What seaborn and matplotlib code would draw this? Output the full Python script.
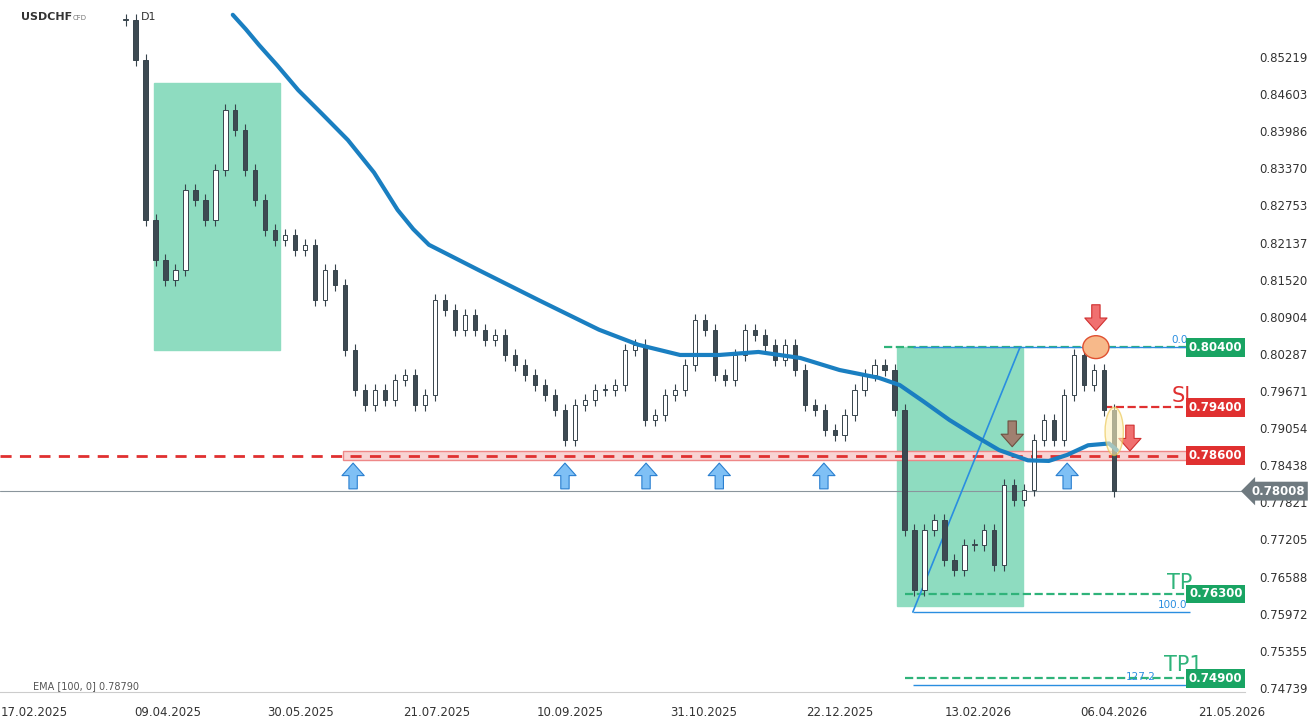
import numpy as np
import pandas as pd
import matplotlib
matplotlib.use("Agg")
import matplotlib.pyplot as plt
import matplotlib.dates as mdates
from matplotlib.patches import Rectangle, Ellipse
import seaborn as sns

# ~4-day closes
closes = [0.8583, 0.8517, 0.8251, 0.8185, 0.8152, 0.8168, 0.8301, 0.8284, 0.8251, 0.8334,
          0.8434, 0.8401, 0.8334, 0.8284, 0.8235, 0.8218, 0.8226, 0.8201, 0.8210, 0.8118,
          0.8168, 0.8143, 0.8035, 0.7969, 0.7944, 0.7969, 0.7952, 0.7985, 0.7994, 0.7944,
          0.7961, 0.8118, 0.8102, 0.8069, 0.8093, 0.8069, 0.8052, 0.8060, 0.8027, 0.8010,
          0.7994, 0.7977, 0.7961, 0.7936, 0.7886, 0.7944, 0.7952, 0.7969, 0.7969, 0.7977,
          0.8035, 0.8044, 0.7919, 0.7927, 0.7961, 0.7969, 0.8010, 0.8085, 0.8069, 0.7994,
          0.7985, 0.8027, 0.8069, 0.8060, 0.8044, 0.8019, 0.8044, 0.8002, 0.7944, 0.7936,
          0.7902, 0.7894, 0.7927, 0.7969, 0.7994, 0.8010, 0.8002, 0.7936, 0.7736, 0.7637,
          0.7736, 0.7753, 0.7686, 0.7670, 0.7711, 0.7711, 0.7736, 0.7678, 0.7811, 0.7786,
          0.7803, 0.7886, 0.7919, 0.7886, 0.7961, 0.8027, 0.7977, 0.8002, 0.7936, 0.7801]
candle_dates = pd.date_range("2025-03-24", "2026-04-06", periods=len(closes))

ema_dates = pd.to_datetime(["2025-05-04", "2025-05-09", "2025-05-14", "2025-05-21", "2025-05-29",
                            "2025-06-07", "2025-06-17", "2025-06-27", "2025-07-06", "2025-07-12",
                            "2025-07-18", "2025-08-06", "2025-08-29", "2025-09-21", "2025-10-06",
                            "2025-10-22", "2025-11-06", "2025-11-21", "2025-12-07", "2025-12-22",
                            "2026-01-06", "2026-01-14", "2026-01-23", "2026-02-02", "2026-02-12",
                            "2026-02-21", "2026-03-04", "2026-03-12", "2026-03-19", "2026-03-27",
                            "2026-04-04", "2026-04-07"])
ema_vals = [0.8592, 0.8568, 0.8542, 0.8508, 0.8467, 0.8428, 0.8384, 0.8330, 0.8268, 0.8236,
            0.8210, 0.8168, 0.8118, 0.8069, 0.8044, 0.8027, 0.8027, 0.8032, 0.8022, 0.8002,
            0.7989, 0.7977, 0.7950, 0.7919, 0.7892, 0.7869, 0.7852, 0.7851, 0.7861, 0.7877,
            0.7880, 0.7869]

support_dates = pd.to_datetime(["2025-06-19", "2025-09-08", "2025-10-09", "2025-11-06", "2025-12-16", "2026-03-19"])

yticks = [0.85219, 0.84603, 0.83986, 0.83370, 0.82753, 0.82137, 0.81520, 0.80904, 0.80287,
          0.79671, 0.79054, 0.78438, 0.77821, 0.77205, 0.76588, 0.75972, 0.75355, 0.74739]
xtick_labels = ["17.02.2025", "09.04.2025", "30.05.2025", "21.07.2025", "10.09.2025",
                "31.10.2025", "22.12.2025", "13.02.2026", "06.04.2026", "21.05.2026"]

last_price = 0.78008
sl, res, tp, tp1, fib0, fib100, fib127 = 0.7940, 0.7860, 0.7630, 0.7490, 0.8040, 0.7600, 0.7479

sns.set_style("white")
fig = plt.figure(figsize=(13.16, 7.18), dpi=100)
ax = fig.add_axes([0, 26 / 718, 1245 / 1316, 692 / 718])

d = lambda s: mdates.date2num(pd.Timestamp(s))

# zones
ax.add_patch(Rectangle((d("2025-04-04"), 0.8035), d("2025-05-22") - d("2025-04-04"), 0.8479 - 0.8035,
                       color="#8edcc0", zorder=1))
ax.add_patch(Rectangle((d("2026-01-13"), 0.7610), d("2026-03-02") - d("2026-01-13"), 0.8040 - 0.7610,
                       color="#8edcc0", zorder=1))
ax.add_patch(Rectangle((d("2025-06-15"), 0.7853), d("2026-05-26") - d("2025-06-15"), 0.0015,
                       facecolor="#f8d3d3", edgecolor="#e88", lw=1, zorder=1))

# candles
opens = [closes[0]] + closes[:-1]
for dt, o, c in zip(candle_dates, opens, closes):
    x = mdates.date2num(dt)
    lo, hi = min(o, c), max(o, c)
    ax.vlines(x, lo - 0.0010, hi + 0.0010, color="#37444c", lw=0.8, zorder=3)
    ax.add_patch(Rectangle((x - 0.8, lo), 1.6, max(hi - lo, 0.0002),
                           facecolor="white" if c >= o else "#3d4a52", edgecolor="#37444c", lw=0.7, zorder=4))

sns.lineplot(x=ema_dates, y=ema_vals, ax=ax, color="#1a7fc1", lw=3, zorder=5)

# levels
ax.axhline(res, color="#e03030", ls="--", lw=2, dashes=(4, 3), zorder=2)
ax.axhline(last_price, color="#8a959c", lw=0.8, zorder=2)
ax.hlines(fib0, d("2026-01-08"), d("2026-05-26"), color="#2fb37a", ls="--", lw=1.6, zorder=2)
ax.hlines(sl, d("2026-04-02"), d("2026-05-10"), color="#e03030", ls="--", lw=1.6, zorder=2)
for lv in (tp, tp1):
    ax.hlines(lv, d("2026-01-16"), d("2026-05-26"), color="#2fb37a", ls="--", lw=1.6, zorder=2)
for lv in (fib0, fib100, fib127):
    ax.hlines(lv, d("2026-01-19"), d("2026-05-05"), color="#2a8ee0", lw=1, zorder=2)
ax.plot([d("2026-01-19"), d("2026-03-01")], [fib100, fib0], color="#2a8ee0", lw=1.2, zorder=2)
for txt, lv, xd in (("0.0", fib0, "2026-05-04"), ("100.0", fib100, "2026-05-04"), ("127.2", fib127, "2026-04-22")):
    ax.text(d(xd), lv + 0.0004, txt, color="#2a8ee0", fontsize=7.5, ha="right", va="bottom")
ax.text(d("2026-04-28"), sl + 0.0002, "SL", color="#e03030", fontsize=15, va="bottom")
ax.text(d("2026-04-26"), tp + 0.0002, "TP", color="#2fb37a", fontsize=15, va="bottom")
ax.text(d("2026-04-25"), tp1 + 0.0006, "TP1", color="#2fb37a", fontsize=15, va="bottom")

# markers
arrow = "simple,head_width=1.6,head_length=0.9,tail_width=0.6"
for sd in support_dates:
    ax.annotate("", xy=(d(sd), 0.7852), xytext=(d(sd), 0.7800),
                arrowprops=dict(arrowstyle=arrow, fc="#7fc0f5", ec="#2a7fd0", lw=0.8), zorder=6)
ax.annotate("", xy=(d("2026-02-26"), 0.7870), xytext=(d("2026-02-26"), 0.7922),
            arrowprops=dict(arrowstyle=arrow, fc="#a08070", ec="#6d5040", lw=0.8), zorder=6)
for dt, top in (("2026-03-30", 0.8115), ("2026-04-12", 0.7915)):
    ax.annotate("", xy=(d(dt), top - 0.0052), xytext=(d(dt), top),
                arrowprops=dict(arrowstyle=arrow, fc="#f07070", ec="#d03030", lw=0.8), zorder=6)
ax.add_patch(Ellipse((d("2026-03-30"), 0.8040), 10, 0.0038, fc="#f7b98a", ec="#e05030", lw=1, zorder=6))
ax.add_patch(Ellipse((d("2026-04-06"), 0.7900), 7, 0.0080, fc="#fff3c0", ec="#e8c040", lw=1, alpha=0.6, zorder=6))

# right-side price tags
yt = ax.get_yaxis_transform()
for lv, col, txt in ((fib0, "#19a463", "0.80400"), (sl, "#e03030", "0.79400"), (res, "#e03030", "0.78600"),
                     (tp, "#19a463", "0.76300"), (tp1, "#19a463", "0.74900")):
    ax.text(0.998, lv, txt, transform=yt, ha="right", va="center", color="white", fontsize=8.5,
            fontweight="bold", bbox=dict(boxstyle="square,pad=0.25", fc=col, ec="none"), zorder=8)
ax.text(1.005, last_price, "0.78008", transform=yt, ha="left", va="center", color="white", fontsize=8.5,
        fontweight="bold", bbox=dict(boxstyle="larrow,pad=0.25", fc="#6f7a80", ec="none"), zorder=8, clip_on=False)

ax.set_xlim(d("2025-02-04"), d("2026-05-26"))
ax.set_ylim(0.74672, 0.86166)
ax.yaxis.tick_right()
ax.set_yticks(yticks)
ax.set_yticklabels([f"{v:.5f}" for v in yticks], fontsize=8.5, color="#333")
ax.set_xticks([d(pd.to_datetime(s, dayfirst=True)) for s in xtick_labels])
ax.set_xticklabels(xtick_labels, fontsize=8.5, color="#333")
ax.tick_params(length=0, pad=10)
ax.set_xlabel("")
ax.set_ylabel("")
for sp in ax.spines.values():
    sp.set_visible(False)
ax.spines["bottom"].set_visible(True)
ax.spines["bottom"].set_color("#ccc")

fig.text(0.016, 0.972, "USDCHF", fontsize=8, fontweight="bold", color="#333")
fig.text(0.055, 0.972, "CFD", fontsize=5, color="#777")
fig.text(0.107, 0.972, "D1", fontsize=8, color="#333")
fig.text(0.025, 0.04, "EMA [100, 0] 0.78790", fontsize=7, color="#555")

fig.savefig("out.png", dpi=100)
